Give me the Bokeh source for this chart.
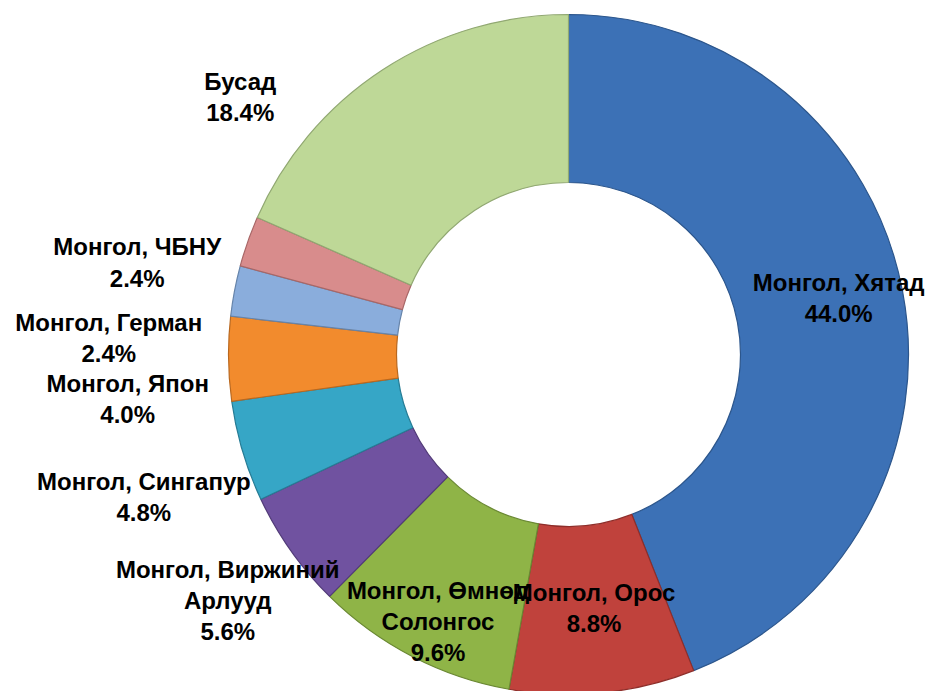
import math
from bokeh.plotting import figure
from bokeh.models import ColumnDataSource, Range1d
from bokeh.core.properties import value
from bokeh.embed import file_html
from bokeh.resources import INLINE

# ---- data ----
labels = ["Монгол, Хятад", "Монгол, Орос", "Монгол, Өмнөд\nСолонгос",
          "Монгол, Виржиний\nАрлууд", "Монгол, Сингапур", "Монгол, Япон",
          "Монгол, Герман", "Монгол, ЧБНУ", "Бусад"]
shares = [44.0, 8.8, 9.6, 5.6, 4.8, 4.0, 2.4, 2.4, 18.4]
colors = ["#3C71B6", "#C0423C", "#8FB447", "#7052A0", "#36A6C6",
          "#F28B2D", "#8AADDC", "#D88C8C", "#BED897"]
edges = ["#2C568C", "#8E2E2A", "#6A8833", "#523B78", "#267C95",
         "#B9681F", "#6684AA", "#A86767", "#91A872"]
# label placement (radius from centre in px, angular nudge in degrees)
label_r = [276, 255, 297, 420, 448, 443, 460, 441, 417]
label_dtheta = [-1.0, 0.0, -1.3, -0.5, -2.0, -5.0, -8.8, -7.4, -18.8]

W, H = 929, 691
cx, cy = 568, H - 354
R_OUT, R_IN = 340, 172

total = sum(shares)
starts, ends, lx, ly, texts = [], [], [], [], []
cum = 0.0
for i, s in enumerate(shares):
    a0 = math.pi / 2 - 2 * math.pi * cum / total
    cum += s
    a1 = math.pi / 2 - 2 * math.pi * cum / total
    starts.append(a0)
    ends.append(a1)
    mid_deg = 360 * (cum - s / 2) / total + label_dtheta[i]
    th = math.radians(mid_deg)
    lx.append(cx + label_r[i] * math.sin(th))
    ly.append(cy + label_r[i] * math.cos(th))
    texts.append(f"{labels[i]}\n{s:.1f}%")

src = ColumnDataSource(dict(start=starts, end=ends, color=colors, edge=edges))
lsrc = ColumnDataSource(dict(x=lx, y=ly, text=texts))

p = figure(width=W, height=H, output_backend="svg", toolbar_location=None,
           x_range=Range1d(0, W), y_range=Range1d(0, H), min_border=0,
           outline_line_color=None, background_fill_color="white")
p.axis.visible = False
p.grid.visible = False

p.annular_wedge(x=cx, y=cy, inner_radius=R_IN, outer_radius=R_OUT,
                start_angle="start", end_angle="end", direction="clock",
                fill_color="color", line_color="edge", line_width=1.2,
                source=src)

p.text(x="x", y="y", text="text", source=lsrc, text_align="center",
       text_baseline="middle", text_font=value("Liberation Sans"),
       text_font_style="bold", text_font_size="24px", text_color="black",
       text_line_height=1.15)

open("out.html", "w").write(file_html(p, INLINE))
